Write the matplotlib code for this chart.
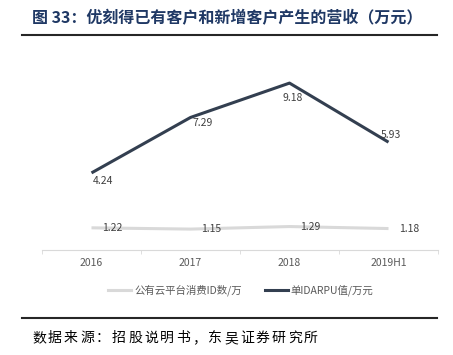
import matplotlib.pyplot as plt
from matplotlib.lines import Line2D

plt.rcParams['font.family'] = ['Noto Sans CJK SC', 'DejaVu Sans']

categories = ['2016', '2017', '2018', '2019H1']
cloud_ids = [1.22, 1.15, 1.29, 1.18]      # 公有云平台消费ID数/万
arpu = [4.24, 7.29, 9.18, 5.93]           # 单IDARPU值/万元

title = '图 33：优刻得已有客户和新增客户产生的营收（万元）'
source = '数据来源：招股说明书，东吴证券研究所'

W, H = 453, 355
fig = plt.figure(figsize=(W / 100, H / 100), dpi=100)

# axes box in pixel coords
left, right, top, bottom = 42, 438, 50, 250
ax = fig.add_axes([left / W, 1 - bottom / H, (right - left) / W, (bottom - top) / H])

x = list(range(len(categories)))
gray = '#D9D9D9'
navy = '#333F50'
ax.plot(x, cloud_ids, color=gray, lw=2.2, solid_capstyle='butt')
ax.plot(x, arpu, color=navy, lw=2.2, solid_capstyle='butt')

ax.set_xlim(-0.5, len(categories) - 0.5)
ax.set_ylim(0, 11)

lab_kw = dict(fontsize=7.5, color='#404040')
for i, v in enumerate(cloud_ids):
    ax.annotate(f'{v:.2f}', (i, v), xytext=(15, 0), textcoords='offset points',
                ha='center', va='center', **lab_kw)
offsets = [(8, -6), (9, -4), (2, -11), (2, 5)]
for i, v in enumerate(arpu):
    ax.annotate(f'{v:.2f}', (i, v), xytext=offsets[i], textcoords='offset points',
                ha='center', va='center', **lab_kw)

for s in ['top', 'left', 'right']:
    ax.spines[s].set_visible(False)
ax.spines['bottom'].set_color('#D9D9D9')
ax.set_yticks([])
ax.set_xticks([i + 0.5 for i in x[:-1]] + [-0.5, len(x) - 0.5], minor=True)
ax.set_xticks(x)
ax.set_xticklabels(categories, fontsize=7.5, color='#595959')
ax.tick_params(axis='x', which='major', length=0, pad=6)
ax.tick_params(axis='x', which='minor', length=3, color='#D9D9D9')

handles = [Line2D([], [], color=gray, lw=2.2), Line2D([], [], color=navy, lw=2.2)]
fig.legend(handles, ['公有云平台消费ID数/万', '单IDARPU值/万元'], loc='center',
           bbox_to_anchor=(241 / W, 1 - 290 / H), ncol=2, frameon=False,
           fontsize=7.5, handlelength=2.2, handletextpad=0.3, columnspacing=2.2,
           labelcolor='#595959')

fig.text(32 / W, 1 - 18 / H, title, fontsize=11.5, fontweight='bold',
         color='#1F3864', ha='left', va='center')
fig.add_artist(Line2D([22 / W, 437 / W], [1 - 35 / H] * 2, color='#262626', lw=1.5))
fig.add_artist(Line2D([22 / W, 437 / W], [1 - 318 / H] * 2, color='#262626', lw=1.5))

# source line, slightly spaced characters like the original
for k, ch in enumerate(source):
    fig.text((32 + k * 16.0) / W, 1 - 338 / H, ch, fontsize=10, color='black',
             ha='left', va='center')

fig.savefig('out.png', dpi=100)
